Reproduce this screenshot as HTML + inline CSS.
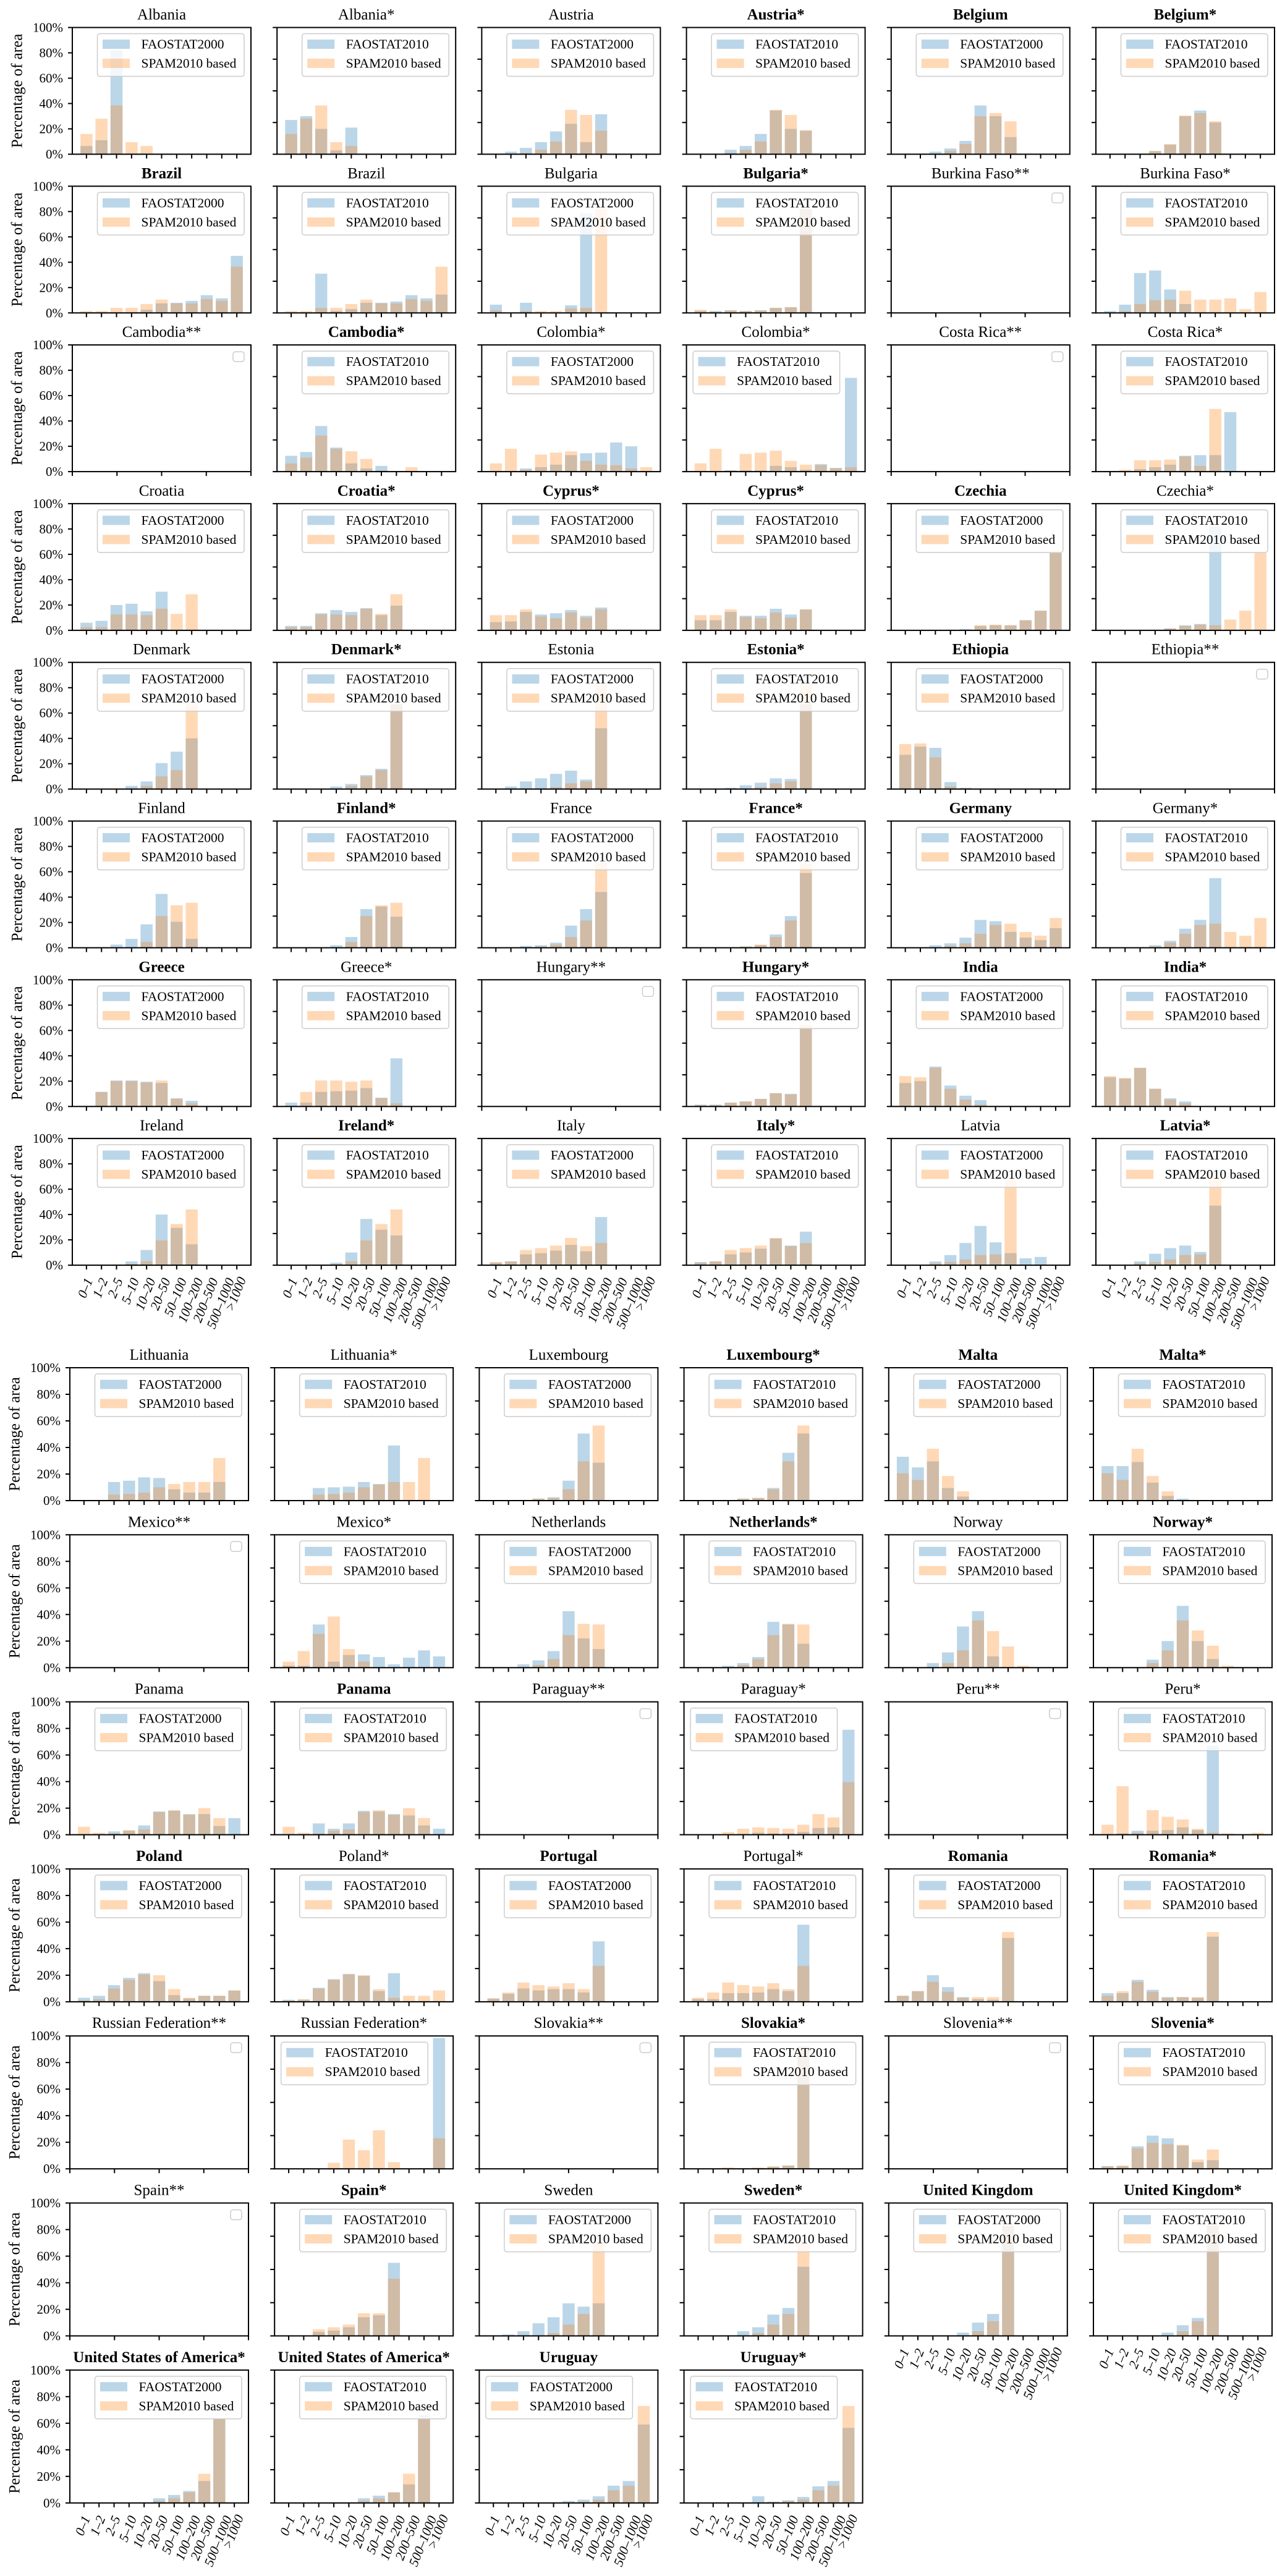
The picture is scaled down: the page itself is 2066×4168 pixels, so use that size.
<!DOCTYPE html>
<html><head><meta charset="utf-8"><title>Farm size distribution by country</title>
<style>html,body{margin:0;padding:0;background:#fff}svg{display:block}text{font-family:"Liberation Serif","DejaVu Serif",serif;fill:#000}</style>
</head><body>
<svg id="fig" width="2066" height="4168" viewBox="0 0 2066 4168" xmlns="http://www.w3.org/2000/svg"></svg>
<script>
const categories = ["0–1","1–2","2–5","5–10","10–20","20–50","50–100","100–200","200–500","500–1000",">1000"];
const panelTitles = [
"Albania","Albania*","Austria","Austria*","Belgium","Belgium*",
"Brazil","Brazil","Bulgaria","Bulgaria*","Burkina Faso**","Burkina Faso*",
"Cambodia**","Cambodia*","Colombia*","Colombia*","Costa Rica**","Costa Rica*",
"Croatia","Croatia*","Cyprus*","Cyprus*","Czechia","Czechia*",
"Denmark","Denmark*","Estonia","Estonia*","Ethiopia","Ethiopia**",
"Finland","Finland*","France","France*","Germany","Germany*",
"Greece","Greece*","Hungary**","Hungary*","India","India*",
"Ireland","Ireland*","Italy","Italy*","Latvia","Latvia*",
"Lithuania","Lithuania*","Luxembourg","Luxembourg*","Malta","Malta*",
"Mexico**","Mexico*","Netherlands","Netherlands*","Norway","Norway*",
"Panama","Panama","Paraguay**","Paraguay*","Peru**","Peru*",
"Poland","Poland*","Portugal","Portugal*","Romania","Romania*",
"Russian Federation**","Russian Federation*","Slovakia**","Slovakia*","Slovenia**","Slovenia*",
"Spain**","Spain*","Sweden","Sweden*","United Kingdom","United Kingdom*",
"United States of America*","United States of America*","Uruguay","Uruguay*"];
const boldTitles = [
0,0,0,1,1,1, 1,0,0,1,0,0, 0,1,0,0,0,0, 0,1,1,1,1,0, 0,1,0,1,1,0, 0,1,0,1,1,0, 1,0,0,1,1,1, 0,1,0,1,0,1,
0,0,0,1,1,1, 0,0,0,1,0,1, 0,1,0,0,0,0, 1,0,1,0,1,1, 0,0,0,1,0,1, 0,1,0,1,1,1, 1,1,1,1];
const faoValues = [
[6.5,11,82,0,0,0,0,0,0,0,0],[27,30,20,3,21,0,0,0,0,0,0],[0,2,5,9.5,18,24,9.5,31.5,0,0,0],[0,0,3.5,6.5,16,34.5,20,18.5,0,0,0],[0,0.5,2,4.5,10.5,38.5,30,13.5,0,0,0],[0,0,0.5,2.5,7.5,30,34.5,25,0,0,0],
[0.5,0.5,0.5,0.5,2.5,7.5,8,9.5,14,11.5,45],[0.5,0.5,31,1.5,3,8,8,9,14,11.5,14.5],[6.5,0,8,0,0,6,78.5,0,0,0,0],[1.5,1.5,2,1.5,2,4,4.5,82,0,0,0],null,[1.5,6.5,31.5,33.5,18.5,7,0,0,0,0,0],
null,[12.5,15.5,36,19,6.5,2.5,4.5,0,0,0,0],[0,0,2.5,3.5,5.5,13,14.5,15,23,20,0],[0,0,1,1,1,4.5,3.5,1.5,6,3,74],null,[0,0,2,3.5,5.5,12.5,13,13,47,0,0],
[6,7.5,20,21,15,30.5,0,0,0,0,0],[3.5,3.5,13.5,16,14.5,17.5,12,19.5,0,0,0],[6.5,7,14.5,12.5,13.5,16,11.5,18,0,0,0],[8,8,14.5,11.5,11.5,17,12.5,16.5,0,0,0],[0,0,0.5,0.5,1,3.5,4,4,8,15.5,61],[0,0,0,0.5,1.5,4,5,82,0,0,0],
[0,0,0,2.5,6,20.5,29.5,40,0,0,0],[0,0,0,2,4,11,16,67,0,0,0],[0,2,6,8.5,12,14.5,7.5,48,0,0,0],[0,0,1,3,5,8.5,8,67,0,0,0],[27,33.5,32.5,5.5,1,0,0,0,0,0,0],null,
[0,0.5,2.5,7,18.5,42.5,20.5,7,0,0,0],[0,0,0,2,8.5,30.5,32.5,24.5,0,0,0],[0,0.5,1.5,2,4,17.5,30.5,44,0,0,0],[0,0,0,1,2,10.5,25,59,0,0,0],[0,0,2,3.5,8,22,21,12.5,8,6,15.5],[0,0,0.5,2,5.5,15,22,55,0,0,0],
[0,11.5,20.5,20.5,19.5,18.5,6.5,4.5,0,0,0],[3,3,11.5,12,12.5,14.5,7,38,0,0,0],null,[1.5,1.5,3,4,6,10.5,10,62,0,0,0],[18.5,20,31.5,16.5,8.5,5,0.5,0,0,0,0],[23,22,30.5,14,6.5,4,0,0,0,0,0],
[0.3,0.3,0.5,3,12,40,29.5,16.5,0,0,0],[0.3,0.3,0.5,2,10,36.5,28,23.5,0,0,0],[2,3,8.5,9.5,11.5,16,11,38,0,0,0],[2.5,3,8.5,10,13,21,15.5,26.5,0,0,0],[0,0.3,3,8,17.5,31,18,9.5,5.5,6.5,0],[0,0,3,9,13.5,15.5,10.5,47,0,0,0],
[0,0.5,14,15,17.5,17,8.5,6,6,14,0],[0.5,0.3,9.5,10,10.5,14,12.5,41.5,0,0,0],[0.3,0,0.5,1.5,2.5,15,50.5,28.5,0,0,0],[0,0,0,1.5,2,9.5,36,50.5,0,0,0],[33,25,29.5,9.5,3,0,0,0,0,0,0],[26,26,29,13.5,3.5,1.5,0,0,0,0,0],
null,[1.5,1.5,32.5,4.5,9.5,10,8,2.5,7.5,13,8.5],[0,0.3,2.5,5.5,12.5,42.5,22,14,0,0,0],[0,0,1.5,3.5,8,34.5,32.5,18,0,0,0],[0,0,3.5,11.5,31,42.5,8.5,0.5,0,0,0],[0,0,0.5,6,20,46.5,20,6.5,0,0,0],
[0,0.5,2.5,3,7,17.5,18,15.5,15.5,6.5,12.5],[0,0,8.5,4.5,8.5,18,17.5,15.5,14.5,7,4.5],null,[0,0,0,0.5,1.5,1,1,2,5,5.5,79],null,[0,1,3,3,3.5,5.5,3.5,67,0,0,0],
[3,4.5,12.5,18,21.5,15.5,5,2.5,4.5,4.5,8.5],[1.5,1.5,10.5,17,21,19.5,8,21.5,0,0,0],[2.5,6,10,8.5,9.5,9.5,7,45.5,0,0,0],[2,2,6.5,6.5,7,9.5,8,58,0,0,0],[4.5,8,20,11,3.5,2,1.5,48,0,0,0],[6.5,6.5,16.5,9,3.5,3.5,3,49,0,0,0],
null,[0,0,0,0,0,0,0,0,0,0.5,98.5],null,[0,0,0,0,0.5,1.5,2.5,92,0,0,0],null,[2,2,17,25,23,17.5,5,6.5,0,0,0],
null,[0,0,3,4,6.5,14,15.5,55,0,0,0],[0,1,3.5,9.5,14,24.5,22,24.5,0,0,0],[0,0,0.5,3.5,6.5,16,21,52,0,0,0],[0,0,0,0.5,2.5,10,16.5,83,0,0,0],[0,0,0,0.5,2.5,8,13.5,83,0,0,0],
[0,0,0,0,0.5,3.5,6,9,16.5,63,0],[0,0,0,0.3,0.5,3.5,5.5,8,14,66,0],[0.3,0,0,0,0,1.5,2.5,5,13,16.5,59],[0.3,0,0,0,5,1,2,4.5,12.5,16.5,56.5]];
const spamValues = [
[16,28,38.5,9.5,6.5,0.5,0.5,0,0,0,0],[16,28,38.5,9.5,6.5,0.5,0.5,0,0,0,0],[0,0,1,3.5,10,35,31,18.5,0,0,0],[0,0,1,3.5,10,35,31,19,0,0,0],[0,0,0.5,2.5,8,30,32.5,26,0,0,0],[0,0,0.5,2.5,8,30.5,32.5,26,0,0,0],
[1.5,1.5,4,4,7,10.5,7.5,7.5,11,9.5,36.5],[1.5,1.5,4,4,7,10.5,7.5,7.5,11,9.5,36.5],[2,0,1.5,1.5,1.5,3.5,4,82,0,0,0],[2.5,1,2,1.5,2,4,4.5,82,0,0,0],null,[0,1.5,7,10,10.5,17.5,10.5,10.5,11.5,3,16.5],
null,[6.5,11,28.5,18,16,10,1,0.5,3.5,0,0],[6.5,18,1.5,13.5,15,16,8.5,5.5,5,2.5,3.5],[6.5,18,1,14,15,16.5,8.5,5.5,5,2.5,3.5],null,[0.5,1.5,9,9,9.5,12,4.5,49.5,0,0,0],
[2.5,2.5,12.5,12.5,12,17,13,28.5,0,0,0],[2.5,2.5,12.5,12.5,12,17,13,28.5,0,0,0],[12,12,16.5,11,9.5,14,10,16.5,0,0,0],[12,12,16.5,10.5,9.5,14,10,16.5,0,0,0],[0,0,0.3,0.5,0.5,4,4.5,4,8,15.5,61],[0,0,0,0.5,1.5,3.5,4.5,4,8.5,15.5,61],
[0,0,0,0.5,2.5,10,15,67,0,0,0],[0,0,0,0.5,2.5,10,15,67,0,0,0],[0,0,0.5,0.5,1.5,4.5,6,83,0,0,0],[0,0,0,0.5,1.5,4.5,6,83,0,0,0],[35.5,36,25,2,0.5,0,0,0,0,0,0],null,
[0,0,0.3,0.5,4.5,25,33.5,35.5,0,0,0],[0,0,0,0.5,4.5,25,33.5,35.5,0,0,0],[0,0,0.5,1,2.5,8.5,21.5,67,0,0,0],[0,0,0,1,2.5,8.5,21.5,67,0,0,0],[0,0,0.5,1.5,3.5,11,18,19,12.5,9.5,23.5],[0,0.5,0.5,1,4,11,18,19,12.5,9.5,23.5],
[0,11.5,20,20,19,20.5,6,2.5,0,0,0],[0.5,11.5,20.5,20.5,19.5,20.5,6.5,2.5,0,0,0],null,[1,1,3,4,6,10.5,9.5,64.5,0,0,0],[24,23,30.5,14,5.5,1.5,0.3,0,0,0,0],[24,22.5,30.5,14,5.5,2.5,0,0,0,0,0],
[0.3,0.3,0.5,1,3,19.5,32.5,44,0,0,0],[0.3,0.3,0.5,1,3,19.5,32.5,44,0,0,0],[2.5,3,12,13.5,15.5,21.5,15,17.5,0,0,0],[2,3,12,13.5,15.5,21.5,15,17.5,0,0,0],[0,0,1.5,2.5,4.5,8,8.5,67,0,0,0],[0,0.3,1.5,2.5,4.5,8,8.5,67,0,0,0],
[0,0.5,4.5,5,6,10,12.5,14,14,32,0],[0,0.3,4.5,5,6,10,12,14,14,32,0],[0.3,0.3,0.5,1.5,2,8.5,29.5,56.5,0,0,0],[0.3,0,0.3,1.5,2,8.5,29.5,56.5,0,0,0],[20.5,15.5,39,18.5,7,0,0,0,0,0,0],[20.5,15.5,39,18.5,7,0,0,0,0,0,0],
null,[4.5,12.5,25.5,38.5,14,4.5,0,0,0,0,0],[0,0,0.5,2,6.5,24.5,33,32.5,0,0,0],[0,0,0.3,2,6.5,24.5,33,32.5,0,0,0],[0,0,0.3,3.5,13,35.5,27.5,16,1.5,0,0],[0,0,0.3,3.5,13,35.5,28,16.5,1.5,0,0],
[6,1.5,1,3.5,4,17,18.5,15,20,12.5,0],[6,1.5,1,3,4,17,18.5,15,20,12.5,0],null,[0,0,2,4.5,5.5,5,4.5,7.5,15.5,13,39.5],null,[7.5,36.5,1.5,18.5,13.5,11.5,4.5,1.5,1,0.5,1.5],
[1,2,10,16.5,20.5,20,9.5,3,4.5,4.5,8.5],[1,2,10,16.5,20.5,20,9.5,3,4.5,4.5,8.5],[2.5,7,14.5,12.5,11.5,14,9.5,27,0,0,0],[3,7,14.5,12.5,11.5,14,9.5,27,0,0,0],[4.5,8,15,7.5,3,3.5,3.5,52.5,0,0,0],[4.5,8,15,7.5,3,3.5,3.5,52.5,0,0,0],
null,[0,0,0,4.5,22,14,29,5,0,0,23],null,[0,0,1,0.5,1,2,2.5,92,0,0,0],null,[2,2.5,15.5,19.5,18.5,18,7,14.5,0,0,0],
null,[0.5,0.5,5,6.5,8.5,17,17,43,0,0,0],[0,0,0,0.3,2,8.5,16.5,69.5,0,0,0],[0,0,0,0.3,2,8.5,16.5,69.5,0,0,0],[0,0,0,0.3,0.5,3.5,11,83,0,0,0],[0,0,0,0,0.5,3.5,11,83,0,0,0],
[0,0,0,0,0.3,1.5,3.5,8,22,63,0],[0,0,0,0,0.3,1.5,3.5,8,22,63,0],[0,0,0,0,0,0.5,1,2.5,9.5,13,73],[0,0,0,0,0,0.5,1.5,2.5,9.5,13,73]];
const yTicksLabelled = [0,20,40,60,80,100];
const yTicksPlain = [0,25,50,75,100];
const emptyXTicks = [0,0.25,0.5,0.75,1];
const shiftedLegendPanels = ["Colombia*|15","Paraguay*|63","Russian Federation*|73","Uruguay|86","Uruguay*|87"];

const NS="http://www.w3.org/2000/svg";
const svg=document.getElementById('fig');
function mk(tag,attrs,parent){const e=document.createElementNS(NS,tag);for(const k in attrs)e.setAttribute(k,attrs[k]);(parent||svg).appendChild(e);return e;}
const AW=289, XMIN=-0.94, XMAX=10.94;
const BLUE='#1f77b4', ORANGE='#ff7f0e';
const shiftedIdx=shiftedLegendPanels.map(s=>+s.split('|')[1]);
const XFS=21.5;

panelTitles.forEach((title,i)=>{
  let group,row,col;
  if(i<48){group=0;row=Math.floor(i/6);col=i%6;}else{group=1;row=Math.floor((i-48)/6);col=(i-48)%6;}
  const left=(group===0?117:113)+331.2*col;
  const top=group===0?44.5+256.8*row:2213+270.3*row;
  const H=group===0?205:215;
  const bottom=top+H;
  const fao=faoValues[i], spam=spamValues[i];
  const empty=fao===null;
  const xs=v=>left+(v-XMIN)/(XMAX-XMIN)*AW;
  const ys=p=>top+H*(1-p/100);
  const g=mk('g',{});
  
  
  const t=mk('text',{x:left+AW/2,y:top-13,'text-anchor':'middle','font-size':25,'font-weight':boldTitles[i]?'bold':'normal'},g);
  t.textContent=title;
  
  
  if(!empty){
    [[fao,BLUE,'fao-bar'],[spam,ORANGE,'spam-bar']].forEach(([vals,color,nm])=>{
      vals.forEach((v,k)=>{
        if(v<=0)return;
        const r=mk('rect',{x:xs(k-0.4),y:ys(v),width:xs(k+0.4)-xs(k-0.4),height:ys(0)-ys(v),fill:color,'fill-opacity':0.3},g);
        
        
      });
    });
  }
  const yt=col===0?yTicksLabelled:yTicksPlain;
  yt.forEach(v=>{
    const tk=mk('line',{x1:left-7,x2:left,y1:ys(v),y2:ys(v),stroke:'#000','stroke-width':2},g);
    
    
    if(col===0){
      const lb=mk('text',{x:left-15,y:ys(v),'text-anchor':'end','dominant-baseline':'central','font-size':21},g);
      lb.textContent=v+'%';
      
      
    }
  });
  if(col===0){
    const yl=mk('text',{x:0,y:0,transform:`translate(${group===0?28:24},${top+H/2}) rotate(-90)`,'text-anchor':'middle','dominant-baseline':'central','font-size':25},g);
    yl.textContent='Percentage of area';
    
    
  }
  const labelled=(group===0&&row===7)||(group===1&&(row===6||(row===5&&col>=4)));
  if(empty){
    emptyXTicks.forEach(f=>{
      const tk=mk('line',{x1:left+f*AW,x2:left+f*AW,y1:bottom,y2:bottom+7,stroke:'#000','stroke-width':2},g);
      
      
    });
  } else {
    categories.forEach((c,k)=>{
      const tk=mk('line',{x1:xs(k),x2:xs(k),y1:bottom,y2:bottom+7,stroke:'#000','stroke-width':2},g);
      
      
      if(labelled){
        const L=c.length*0.5*XFS;
        const a=68*Math.PI/180;
        const bh=L*Math.sin(a)+XFS*0.95*Math.cos(a);
        const lb=mk('text',{x:0,y:0,'text-anchor':'middle','dominant-baseline':'central','font-size':XFS,'font-style':'italic',transform:`translate(${xs(k)-2},${bottom+18+bh/2}) rotate(-68)`},g);
        lb.textContent=c;
        
        
      }
    });
  }
  const right=left+AW;
  if(empty){
    const lg=mk('rect',{x:right-11-18,y:top+11,width:18,height:16,rx:4,fill:'#fff','fill-opacity':0.8,stroke:'#ccc','stroke-width':1.5},g);
    
    
  } else {
    const shift=shiftedIdx.includes(i)?30:0;
    const lx=right-11-237.5-shift, ly=top+10;
    const lgg=mk('g',{},g);
    
    
    mk('rect',{x:lx,y:ly,width:237.5,height:69,rx:4,fill:'#fff','fill-opacity':0.8,stroke:'#ccc','stroke-width':1.5},lgg);
    [[BLUE,(col%2===0)?'FAOSTAT2000':'FAOSTAT2010',17,'legend-entry-fao'],[ORANGE,'SPAM2010 based',48,'legend-entry-spam']].forEach(([color,label,cy,nm])=>{
      const eg=mk('g',{},lgg);
      
      
      mk('rect',{x:lx+8.5,y:ly+cy-7.5,width:44,height:15,fill:color,'fill-opacity':0.3},eg);
      const tx=mk('text',{x:lx+71,y:ly+cy,'dominant-baseline':'central','font-size':21.5},eg);
      tx.textContent=label;
    });
  }
  const sp=mk('rect',{x:left,y:top,width:AW,height:H,fill:'none',stroke:'#000','stroke-width':2},g);
  
  
});
</script>
</body></html>
